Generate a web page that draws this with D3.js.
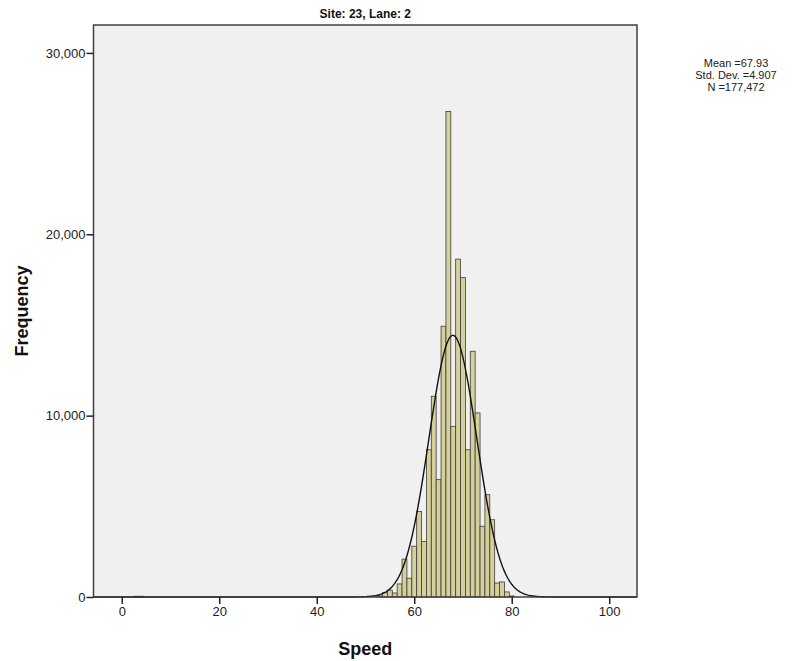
<!DOCTYPE html>
<html>
<head>
<meta charset="utf-8">
<script src="https://cdn.jsdelivr.net/npm/d3@7"></script>
<style>
  body { margin: 0; background: #fff; }
  svg { display: block; }
</style>
</head>
<body>
<svg id="chart"></svg>
<script>
const W = 795, H = 661;
const plot = {"left": 93.5, "top": 25, "right": 637, "bottom": 597};

// speed value (bin centre, width 1) and frequency
const speeds = [3, 4, 53, 54, 55, 56, 57, 58, 59, 60, 61, 62, 63, 64, 65, 66,
                67, 68, 69, 70, 71, 72, 73, 74, 75, 76, 77, 78, 79, 80];
const counts = [40, 40, 60, 240, 380, 220, 720, 2090, 1040, 2800, 4720, 3070, 8120, 11070, 6470, 14930,
                26770, 9410, 18630, 17610, 8120, 13550, 10150, 3900, 5640, 4260, 770, 830, 280, 60];
const xTicks = [0, 20, 40, 60, 80, 100];
const yTicks = [0, 10000, 20000, 30000];
const stats = {"mean": 67.93, "sd": 4.907, "n": 177472};
const statLines = ["Mean =67.93", "Std. Dev. =4.907", "N =177,472"];
const title = "Site: 23, Lane: 2";

const svg = d3.select("#chart").attr("width", W).attr("height", H);

const x = d3.scaleLinear().domain([-5.8, 105.7]).range([plot.left, plot.right]);
const y = d3.scaleLinear().domain([0, 31540]).range([plot.bottom, plot.top]);

// plot background
svg.append("rect")
  .attr("x", plot.left)
  .attr("y", plot.top)
  .attr("width", plot.right - plot.left)
  .attr("height", plot.bottom - plot.top)
  .attr("fill", "#f0f0f0");

// bars
svg.append("g")
  .selectAll("rect")
  .data(speeds)
  .enter()
  .append("rect")
  .attr("x", (s) => x(s - 0.5))
  .attr("y", (s, i) => y(counts[i]))
  .attr("width", (s) => x(s + 0.5) - x(s - 0.5))
  .attr("height", (s, i) => y(0) - y(counts[i]))
  .attr("fill", "#d5d09a")
  .attr("stroke", "#3c3c3c")
  .attr("stroke-width", 0.8);

// normal curve from the shown mean / sd / N (bin width 1)
const pdf = (v) => stats.n / (stats.sd * Math.sqrt(2 * Math.PI)) *
  Math.exp(-0.5 * Math.pow((v - stats.mean) / stats.sd, 2));
const curveX = d3.range(x.domain()[0], x.domain()[1], 0.2);
svg.append("path")
  .datum(curveX)
  .attr("d", d3.line().x((v) => x(v)).y((v) => y(pdf(v))))
  .attr("fill", "none")
  .attr("stroke", "#111")
  .attr("stroke-width", 1.4);

// frame
svg.append("rect")
  .attr("x", plot.left)
  .attr("y", plot.top)
  .attr("width", plot.right - plot.left)
  .attr("height", plot.bottom - plot.top)
  .attr("fill", "none")
  .attr("stroke", "#404040")
  .attr("stroke-width", 1.5);

// axes
const xAxis = svg.append("g")
  .attr("transform", `translate(0,${plot.bottom})`)
  .call(d3.axisBottom(x).tickValues(xTicks).tickSize(7).tickPadding(3));
const yAxis = svg.append("g")
  .attr("transform", `translate(${plot.left},0)`)
  .call(d3.axisLeft(y).tickValues(yTicks).tickFormat(d3.format(",")).tickSize(7).tickPadding(1));

[xAxis, yAxis].forEach((a) => {
  a.select(".domain").remove();
  a.selectAll("line").attr("stroke", "#222").attr("stroke-width", 1.5);
  a.selectAll("text")
    .attr("font-family", "Liberation Sans, Arial, sans-serif")
    .attr("font-size", 13)
    .attr("fill", "#222");
});

// title
svg.append("text")
  .attr("x", (plot.left + plot.right) / 2)
  .attr("y", 18)
  .attr("text-anchor", "middle")
  .attr("font-family", "Liberation Sans, Arial, sans-serif")
  .attr("font-weight", "bold")
  .attr("font-size", 12)
  .attr("fill", "#111")
  .text(title);

// axis titles
svg.append("text")
  .attr("x", (plot.left + plot.right) / 2)
  .attr("y", 655)
  .attr("text-anchor", "middle")
  .attr("font-family", "Liberation Sans, Arial, sans-serif")
  .attr("font-weight", "bold")
  .attr("font-size", 18)
  .attr("fill", "#111")
  .text("Speed");

svg.append("text")
  .attr("transform", `translate(28,${(plot.top + plot.bottom) / 2}) rotate(-90)`)
  .attr("text-anchor", "middle")
  .attr("font-family", "Liberation Sans, Arial, sans-serif")
  .attr("font-weight", "bold")
  .attr("font-size", 18)
  .attr("fill", "#111")
  .text("Frequency");

// stats box
svg.append("g")
  .selectAll("text")
  .data(statLines)
  .enter()
  .append("text")
  .attr("x", 736)
  .attr("y", (d, i) => 67 + i * 12)
  .attr("text-anchor", "middle")
  .attr("font-family", "Liberation Sans, Arial, sans-serif")
  .attr("font-size", 11)
  .attr("fill", "#222")
  .text((d) => d);
</script>
</body>
</html>
